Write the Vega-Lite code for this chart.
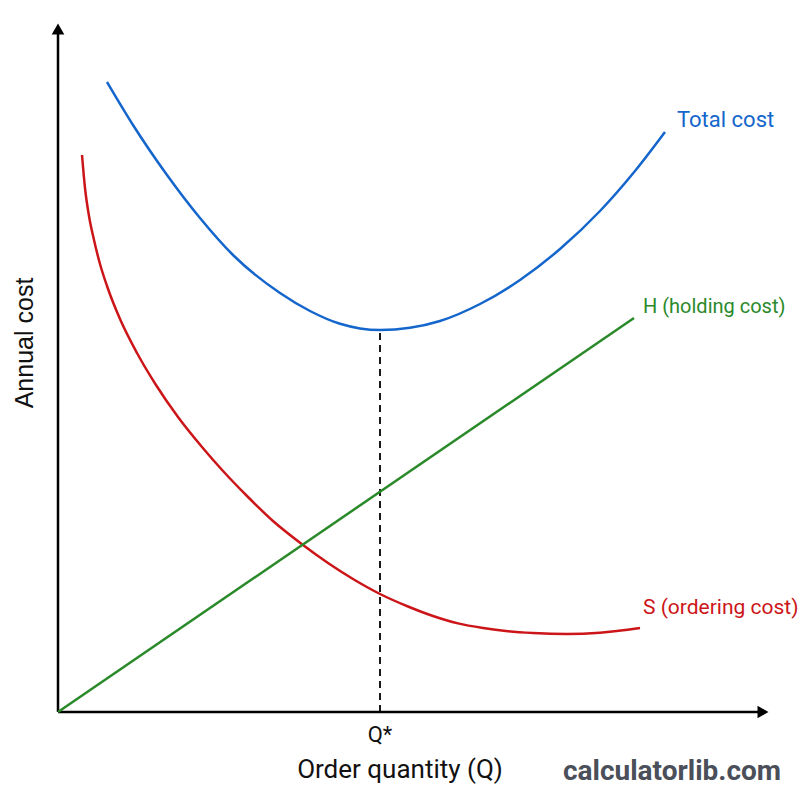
{
  "$schema": "https://vega.github.io/schema/vega-lite/v6.json",
  "autosize": {"type": "none"},
  "width": 800,
  "height": 800,
  "padding": 0,
  "background": "white",
  "config": {"view": {"stroke": null}},
  "datasets": {
    "curves": [
      {"series": "Total cost", "q": 49, "cost": 630},
      {"series": "Total cost", "q": 75, "cost": 587},
      {"series": "Total cost", "q": 109, "cost": 537},
      {"series": "Total cost", "q": 142, "cost": 494},
      {"series": "Total cost", "q": 175, "cost": 457},
      {"series": "Total cost", "q": 222, "cost": 419},
      {"series": "Total cost", "q": 252, "cost": 401},
      {"series": "Total cost", "q": 282, "cost": 388.2},
      {"series": "Total cost", "q": 302, "cost": 383.6},
      {"series": "Total cost", "q": 322, "cost": 382},
      {"series": "Total cost", "q": 352, "cost": 384.2},
      {"series": "Total cost", "q": 382, "cost": 391},
      {"series": "Total cost", "q": 422, "cost": 408},
      {"series": "Total cost", "q": 462, "cost": 432},
      {"series": "Total cost", "q": 502, "cost": 463},
      {"series": "Total cost", "q": 542, "cost": 501},
      {"series": "Total cost", "q": 577, "cost": 541},
      {"series": "Total cost", "q": 607, "cost": 580},
      {"series": "S (ordering cost)", "q": 24, "cost": 557},
      {"series": "S (ordering cost)", "q": 27, "cost": 524},
      {"series": "S (ordering cost)", "q": 31, "cost": 496},
      {"series": "S (ordering cost)", "q": 36, "cost": 472},
      {"series": "S (ordering cost)", "q": 42, "cost": 448},
      {"series": "S (ordering cost)", "q": 49, "cost": 426},
      {"series": "S (ordering cost)", "q": 62, "cost": 393},
      {"series": "S (ordering cost)", "q": 79, "cost": 359},
      {"series": "S (ordering cost)", "q": 98, "cost": 327},
      {"series": "S (ordering cost)", "q": 120, "cost": 295},
      {"series": "S (ordering cost)", "q": 144, "cost": 265},
      {"series": "S (ordering cost)", "q": 165, "cost": 241},
      {"series": "S (ordering cost)", "q": 190, "cost": 215},
      {"series": "S (ordering cost)", "q": 215, "cost": 191},
      {"series": "S (ordering cost)", "q": 245, "cost": 167},
      {"series": "S (ordering cost)", "q": 270, "cost": 149},
      {"series": "S (ordering cost)", "q": 295, "cost": 133},
      {"series": "S (ordering cost)", "q": 322, "cost": 118},
      {"series": "S (ordering cost)", "q": 350, "cost": 105.5},
      {"series": "S (ordering cost)", "q": 375, "cost": 96},
      {"series": "S (ordering cost)", "q": 400, "cost": 88.6},
      {"series": "S (ordering cost)", "q": 425, "cost": 84},
      {"series": "S (ordering cost)", "q": 450, "cost": 80.8},
      {"series": "S (ordering cost)", "q": 475, "cost": 79},
      {"series": "S (ordering cost)", "q": 509, "cost": 78},
      {"series": "S (ordering cost)", "q": 542, "cost": 79.3},
      {"series": "S (ordering cost)", "q": 582, "cost": 84},
      {"series": "H (holding cost)", "q": 0, "cost": 0},
      {"series": "H (holding cost)", "q": 576, "cost": 394}
    ],
    "labels": [
      {"series": "Total cost", "q": 619, "cost": 592},
      {"series": "H (holding cost)", "q": 585, "cost": 405},
      {"series": "S (ordering cost)", "q": 585, "cost": 104}
    ]
  },
  "layer": [
    {
      "data": {"values": [{"q": 0, "q2": 705, "cost": 0, "cost2": 0}, {"q": 0, "q2": 0, "cost": 0, "cost2": 680}]},
      "mark": {"type": "rule", "color": "black", "strokeWidth": 2.5},
      "encoding": {
        "x": {"field": "q", "type": "quantitative", "scale": {"domain": [-58, 742], "nice": false, "zero": false}, "axis": null},
        "x2": {"field": "q2"},
        "y": {"field": "cost", "type": "quantitative", "scale": {"domain": [-88, 712], "nice": false, "zero": false}, "axis": null},
        "y2": {"field": "cost2"}
      }
    },
    {
      "data": {"values": [{"q": 705, "cost": 0, "dir": "right"}]},
      "mark": {"type": "point", "shape": "triangle-right", "filled": true, "color": "black", "size": 160, "opacity": 1},
      "encoding": {
        "x": {"field": "q", "type": "quantitative"},
        "y": {"field": "cost", "type": "quantitative"}
      }
    },
    {
      "data": {"values": [{"q": 0, "cost": 683, "dir": "up"}]},
      "mark": {"type": "point", "shape": "triangle-up", "filled": true, "color": "black", "size": 160, "opacity": 1},
      "encoding": {
        "x": {"field": "q", "type": "quantitative"},
        "y": {"field": "cost", "type": "quantitative"}
      }
    },
    {
      "data": {"values": [{"q": 322, "cost": 0, "cost2": 380}]},
      "mark": {"type": "rule", "color": "black", "strokeWidth": 1.8, "strokeDash": [7, 5]},
      "encoding": {
        "x": {"field": "q", "type": "quantitative"},
        "y": {"field": "cost", "type": "quantitative"},
        "y2": {"field": "cost2"}
      }
    },
    {
      "data": {"name": "curves"},
      "mark": {"type": "line", "interpolate": "monotone", "strokeWidth": 2.5},
      "encoding": {
        "x": {"field": "q", "type": "quantitative"},
        "y": {"field": "cost", "type": "quantitative"},
        "color": {"field": "series", "type": "nominal", "scale": {"domain": ["Total cost", "S (ordering cost)", "H (holding cost)"], "range": ["#1466cc", "#cc1518", "#2a8a2a"]}, "legend": null},
        "detail": {"field": "series"}
      }
    },
    {
      "data": {"name": "labels"},
      "mark": {"type": "text", "align": "left", "baseline": "middle", "font": "Roboto"},
      "encoding": {
        "x": {"field": "q", "type": "quantitative"},
        "y": {"field": "cost", "type": "quantitative"},
        "text": {"field": "series"},
        "size": {"field": "series", "type": "nominal", "scale": {"domain": ["Total cost", "S (ordering cost)", "H (holding cost)"], "range": [22, 20, 20]}, "legend": null},
        "color": {"field": "series", "type": "nominal", "legend": null}
      }
    },
    {
      "data": {"values": [{"q": 322, "cost": -23, "t": "Q*"}]},
      "mark": {"type": "text", "align": "center", "baseline": "middle", "font": "Roboto", "fontSize": 22, "color": "#111111"},
      "encoding": {
        "x": {"field": "q", "type": "quantitative"},
        "y": {"field": "cost", "type": "quantitative"},
        "text": {"field": "t"}
      }
    },
    {
      "data": {"values": [{"q": 342, "cost": -58, "t": "Order quantity (Q)"}]},
      "mark": {"type": "text", "align": "center", "baseline": "middle", "font": "Roboto", "fontSize": 26, "color": "#111111"},
      "encoding": {
        "x": {"field": "q", "type": "quantitative"},
        "y": {"field": "cost", "type": "quantitative"},
        "text": {"field": "t"}
      }
    },
    {
      "data": {"values": [{"q": -33, "cost": 369, "t": "Annual cost"}]},
      "mark": {"type": "text", "align": "center", "baseline": "middle", "angle": 270, "font": "Liberation Sans", "fontSize": 25, "color": "#111111"},
      "encoding": {
        "x": {"field": "q", "type": "quantitative"},
        "y": {"field": "cost", "type": "quantitative"},
        "text": {"field": "t"}
      }
    },
    {
      "data": {"values": [{"q": 614, "cost": -60, "t": "calculatorlib.com"}]},
      "mark": {"type": "text", "align": "center", "baseline": "middle", "font": "Roboto", "fontWeight": "bold", "fontSize": 28, "color": "#4a4f5a"},
      "encoding": {
        "x": {"field": "q", "type": "quantitative"},
        "y": {"field": "cost", "type": "quantitative"},
        "text": {"field": "t"}
      }
    }
  ]
}
